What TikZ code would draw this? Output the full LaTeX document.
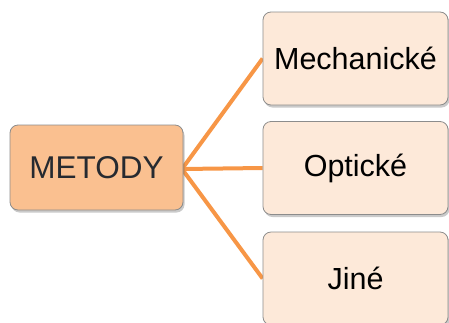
\documentclass[tikz,border=0pt]{standalone}
\usepackage{fontspec}
\setmainfont{Liberation Sans}
\usetikzlibrary{shadows,backgrounds}
\definecolor{rootfill}{HTML}{FAC090}
\definecolor{leaffill}{HTML}{FDE9D9}
\definecolor{boxline}{HTML}{8C8C8C}
\definecolor{linkline}{HTML}{F79646}
\definecolor{roottext}{HTML}{262A30}
\tikzset{
  box/.style={draw=boxline, line width=0.8pt, rounded corners=8pt,
    inner sep=0pt,
    drop shadow={shadow xshift=1.5pt, shadow yshift=-2.5pt, opacity=0.35, fill=black!60}},
  rootbox/.style={box, fill=rootfill, text=roottext, minimum width=173pt, minimum height=85pt,
    font=\fontsize{31.5}{36}\selectfont},
  leafbox/.style={box, fill=leaffill, text=black, minimum width=185pt, minimum height=93pt,
    font=\fontsize{30.5}{36}\selectfont},
  link/.style={draw=linkline, line width=4pt}
}
\begin{document}
\begin{tikzpicture}[x=1pt, y=-1pt]
  \useasboundingbox (0,0) rectangle (449,322);
  \clip (0,0) rectangle (449,322);
  \coordinate (hub) at (182,169);
  \node[rootbox] (root) at (96.5,167.5) {METODY};
  \node[leafbox] (mech) at (355.5,58.5) {Mechanické};
  \node[leafbox] (opt) at (355.5,168) {Optické};
  \node[leafbox] (other) at (355.5,278.5) {Jiné};
  % connectors sit behind the boxes
  \begin{scope}[on background layer]
    \draw[link] (hub) -- (mech.west);
    \draw[link] (hub) -- (opt.west);
    \draw[link] (hub) -- (other.west);
  \end{scope}
\end{tikzpicture}
\end{document}
